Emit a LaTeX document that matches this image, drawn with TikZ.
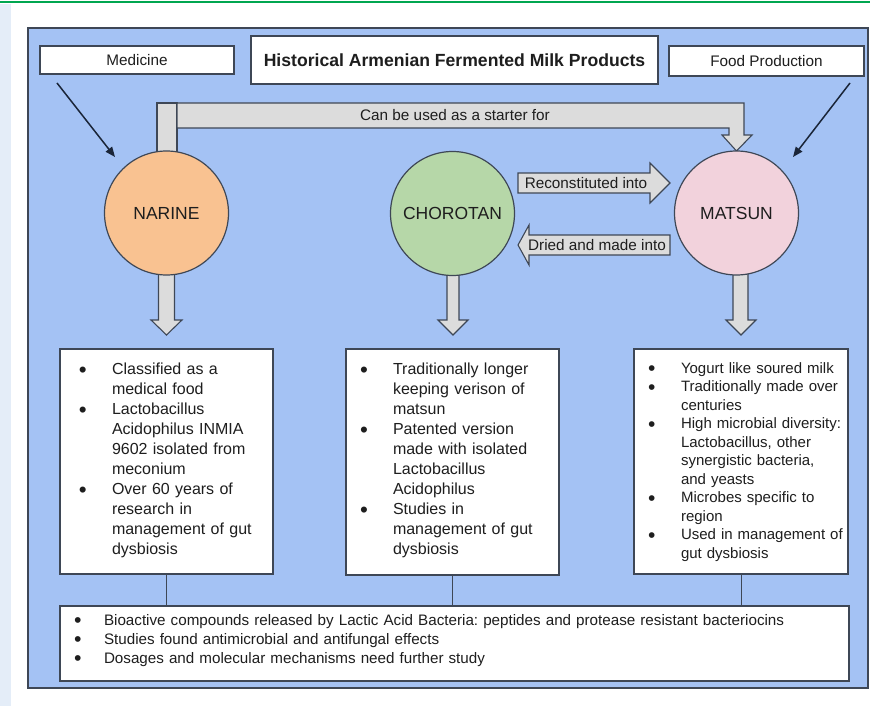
\documentclass[tikz,border=0pt]{standalone}
\usepackage{fontspec}
\setmainfont{Liberation Sans}
\usetikzlibrary{arrows.meta}
\definecolor{panelblue}{HTML}{A4C2F4}
\definecolor{edge}{HTML}{3E4756}
\definecolor{arrowgray}{HTML}{DCDCDC}
\definecolor{narinec}{HTML}{F9C291}
\definecolor{chorotanc}{HTML}{B6D7A8}
\definecolor{matsunc}{HTML}{F2D2DC}
\definecolor{ink}{HTML}{1E1E1E}
\definecolor{navy}{HTML}{1A2538}
\definecolor{topgreen}{HTML}{00A650}
\definecolor{stripc}{HTML}{E4EDF8}
\newcommand{\bigdot}{\hspace*{-1.2pt}\smash{\raisebox{-2.4pt}{\scalebox{1.4}{\textbullet}}}}
\newcommand{\bi}{\strut\makebox[31.8pt][l]{\bigdot}}
\newcommand{\ci}{\hspace*{31.8pt}}
\newcommand{\bib}{\strut\makebox[28.8pt][l]{\bigdot}}
\begin{document}
\frenchspacing
\begin{tikzpicture}[x=1pt,y=-1pt,
  every node/.style={inner sep=0pt, outer sep=0pt, text=ink},
  basefont/.style={font=\fontsize{15.3}{18}\selectfont},
  whitebox/.style={draw=edge, line width=1.3pt, fill=white, rectangle, anchor=north west},
  blockarrow/.style={draw=edge, line width=1.1pt, fill=arrowgray, line join=miter},
  bubble/.style={circle, draw=edge, line width=1.2pt, minimum size=124pt, font=\fontsize{17.5}{20}\selectfont},
  pointer/.style={draw=navy, line width=1.5pt, -{Triangle[length=10pt,width=8pt]}},
  linker/.style={draw=edge, line width=1pt},
  listtext/.style={anchor=north west, align=left},
]
\useasboundingbox (0,0) rectangle (870,706);
\fill[white] (0,0) rectangle (870,706);
\fill[topgreen] (0,1.5) rectangle (870,3.5);
\fill[stripc] (0,4) rectangle (11,706);
% panel
\draw[fill=panelblue, draw=edge, line width=1.3pt] (28,28) rectangle (868,688);

% top boxes
\node[whitebox, basefont, minimum width=194pt, minimum height=28pt] (med) at (40,46) {Medicine};
\node[whitebox, font=\fontsize{17.6}{20}\selectfont\bfseries, minimum width=407pt, minimum height=48pt] (title) at (251,36) {Historical Armenian Fermented Milk Products};
\node[whitebox, basefont, minimum width=195pt, minimum height=30pt] (food) at (669,46) {Food Production};

% starter block arrow
\draw[blockarrow] (157,103) rectangle (177,170);
\draw[blockarrow] (177,103) -- (744,103) -- (744,135) -- (752,135) -- (736.5,151) -- (722,135) -- (729,135) -- (729,128) -- (177,128) -- cycle;
\node[basefont] (starter) at (455,115.5) {Can be used as a starter for};

% down block arrows
\draw[blockarrow] (158.5,250) -- (158.5,320) -- (151,320) -- (166.5,335) -- (182,320) -- (174.5,320) -- (174.5,250) -- cycle;
\draw[blockarrow] (447,250) -- (447,320) -- (438,320) -- (453,335) -- (468,320) -- (459,320) -- (459,250) -- cycle;
\draw[blockarrow] (733,250) -- (733,320) -- (726,320) -- (741,335) -- (756,320) -- (748,320) -- (748,250) -- cycle;

% circles
\node[bubble, fill=narinec] (narine) at (166.5,213) {NARINE};
\node[bubble, fill=chorotanc] (chorotan) at (452.5,213.5) {CHOROTAN};
\node[bubble, fill=matsunc] (matsun) at (736.5,213) {MATSUN};

% side arrows
\draw[blockarrow] (518,173) -- (650,173) -- (650,163) -- (670,183) -- (650,203) -- (650,193) -- (518,193) -- cycle;
\node[basefont] (recon) at (586,183.5) {Reconstituted into};
\draw[blockarrow] (670,235) -- (529,235) -- (529,225) -- (518,245) -- (529,265) -- (529,255) -- (670,255) -- cycle;
\node[basefont] (dried) at (597,245.5) {Dried and made into};

% pointers
\coordinate (medtail) at (57,83);
\coordinate (medtip) at (115,157);
\draw[pointer] (medtail) -- (medtip);
\coordinate (foodtail) at (850,83);
\coordinate (foodtip) at (793,157);
\draw[pointer] (foodtail) -- (foodtip);

% info boxes
\node[whitebox, minimum width=213pt, minimum height=225pt] (nbox) at (60,349) {};
\node[whitebox, minimum width=213pt, minimum height=226pt] (cbox) at (346,349) {};
\node[whitebox, minimum width=214pt, minimum height=225pt] (mbox) at (634,349) {};
\node[whitebox, minimum width=789pt, minimum height=75pt] (bbox) at (60,606) {};

\node[listtext, text width=190pt, font=\fontsize{16}{20}\selectfont] (ntext) at (80.2,360.7) {%
\bi Classified as a\\
\ci medical food\\
\bi Lactobacillus\\
\ci Acidophilus INMIA\\
\ci 9602 isolated from\\
\ci meconium\\
\bi Over 60 years of\\
\ci research in\\
\ci management of gut\\
\ci dysbiosis};

\node[listtext, text width=195pt, font=\fontsize{16}{20}\selectfont] (ctext) at (361.2,360.7) {%
\bi Traditionally longer\\
\ci keeping verison of\\
\ci matsun\\
\bi Patented version\\
\ci made with isolated\\
\ci Lactobacillus\\
\ci Acidophilus\\
\bi Studies in\\
\ci management of gut\\
\ci dysbiosis};

\node[listtext, text width=200pt, font=\fontsize{15}{18.5}\selectfont] (mtext) at (649.2,360.4) {%
\bi Yogurt like soured milk\\
\bi Traditionally made over\\
\ci centuries\\
\bi High microbial diversity:\\
\ci Lactobacillus, other\\
\ci synergistic bacteria,\\
\ci and yeasts\\
\bi Microbes specific to\\
\ci region\\
\bi Used in management of\\
\ci gut dysbiosis};

\node[listtext, text width=760pt, font=\fontsize{15.2}{19}\selectfont] (btext) at (75.2,612.2) {%
\bib Bioactive compounds released by Lactic Acid Bacteria: peptides and protease resistant bacteriocins\\
\bib Studies found antimicrobial and antifungal effects\\
\bib Dosages and molecular mechanisms need further study};

% links
\draw[linker] (nbox.south) -- (nbox.south |- bbox.north);
\draw[linker] (cbox.south) -- (cbox.south |- bbox.north);
\draw[linker] (mbox.south) -- (mbox.south |- bbox.north);
\end{tikzpicture}
\end{document}
